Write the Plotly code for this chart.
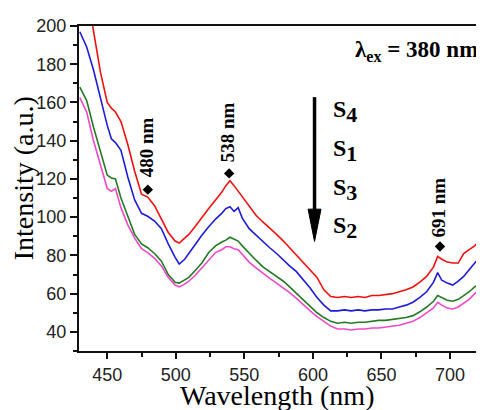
import plotly.graph_objects as go

# ---------------- data ----------------
wavelength = [430, 435, 440, 445, 450, 453, 456, 460, 465, 470, 475, 479.5, 484.5, 489.5, 494.5, 499.5,
              502.5, 506.5, 509.5, 514, 519, 524, 529, 533.5, 536.5, 539.5, 542.5, 545.5, 548.5,
              553.5, 558.5, 563.5, 568.5, 573.5, 578.5, 583, 588, 593, 598, 603, 608, 613, 618, 623, 628,
              633, 638, 643, 648, 653, 658, 663, 668, 673, 678,
              683, 688, 691, 694, 698, 702, 706, 710, 714, 718, 722, 726]

s4 = [240, 218, 196, 176, 160, 157, 155, 150, 138, 124, 112, 110.5, 106, 99, 92, 87.5,
      86.5, 89, 91, 95, 100, 104.5, 109, 113, 116.5, 119, 116.5, 113.5, 111,
      106, 101, 97.5, 94.5, 91, 87.5, 84, 80.5, 76.5, 72.5, 68.5, 62, 58.5, 58, 58.5, 58,
      58.5, 58, 59, 59, 59.5, 60, 61, 62, 63.5, 66,
      69, 74, 79.5, 78, 76.5, 76, 76, 81, 83, 85, 88, 91]

s1 = [197, 189, 177, 162, 148, 141, 139, 135, 121, 109, 102, 100.5, 98, 94, 86, 79,
      75.5, 78, 81, 86, 90.5, 95, 99, 102, 104.5, 105.5, 103, 105, 99.5,
      94, 90.5, 87.5, 84, 81, 77.5, 74.5, 71.5, 67.5, 63, 58, 54, 51, 51, 51.5, 51,
      51.5, 51, 51.5, 51.5, 52, 52, 53, 54, 55.5, 58,
      61, 66, 71, 67, 65.5, 64.5, 66.5, 69, 72.5, 76, 79.5, 82]

s3 = [168, 161, 147, 134, 122, 120.5, 120, 110, 100, 91, 86, 84, 81, 77, 70, 66,
      65.5, 67, 68.5, 72, 76, 81.5, 85, 87, 88, 89.5, 88.5, 87.5, 85,
      81, 77.5, 74, 71.5, 69, 66.5, 63.5, 60, 56.5, 53, 50, 47.5, 45.5, 44.5, 45, 44.5,
      45, 45, 45.5, 46, 46, 46.5, 47, 47.5, 48.5, 50.5,
      53, 56, 59, 58, 56.5, 56, 57, 59, 61, 63.5, 66, 68]

s2 = [162.5, 155, 140, 127, 115, 113.5, 115, 105, 96, 89, 83.5, 81.5, 78.5, 74.5, 68.5, 64.5,
      63.5, 65, 66.5, 69.5, 73.5, 78, 81.5, 83, 84.5, 84.5, 83.5, 83, 80.5,
      76.5, 73.5, 70.5, 68, 65.5, 63, 60.5, 57.5, 54.5, 51, 48, 45.5, 43, 41.5, 41.5, 41,
      41.5, 41.5, 42, 42, 42.5, 43, 43.5, 44.5, 45.5, 47.5,
      50, 52.5, 55.5, 54, 52.5, 52, 53, 55, 57, 60, 62.5, 64.5]

peak_labels = ["480 nm", "538 nm", "691 nm"]
peak_x = [479.6, 538.9, 692.7]
peak_y = [114.4, 122.9, 84.7]

series_names = ["S<sub>4</sub>", "S<sub>1</sub>", "S<sub>3</sub>", "S<sub>2</sub>"]
series_subs = ["4", "1", "3", "2"]
series_colors = ["#f01010", "#1c1cd8", "#237a23", "#f048c8"]

x_ticks = [450, 500, 550, 600, 650, 700]
y_ticks = [40, 60, 80, 100, 120, 140, 160, 180, 200]

# ---------------- figure ----------------
SERIF = "Times New Roman, Liberation Serif, serif"
SANS = "Arial, Liberation Sans, sans-serif"

fig = go.Figure()
for name, ys, col in zip(series_names, [s4, s1, s3, s2], series_colors):
    fig.add_trace(go.Scatter(x=wavelength, y=ys, mode="lines", name=name,
                             line=dict(color=col, width=1.6), showlegend=False))

fig.add_trace(go.Scatter(x=peak_x, y=peak_y, mode="markers", showlegend=False,
                         marker=dict(symbol="diamond", size=8, color="black")))

# rotated peak labels above markers
label_gap = [5.5, 5.0, 3.8]
for lx, ly, lt, g in zip(peak_x, peak_y, peak_labels, label_gap):
    fig.add_annotation(x=lx - 1.2, y=ly + g, text=lt, showarrow=False, textangle=-90,
                       xanchor="center", yanchor="bottom",
                       font=dict(family=SERIF, size=19, color="black", weight="bold"))

# excitation label
fig.add_annotation(x=722, y=187, text="λ<sub>ex</sub> = 380 nm", showarrow=False,
                   xanchor="right", yanchor="middle",
                   font=dict(family=SERIF, size=23, color="black", weight="bold"))

# arrow
arrow_x = 601.2
fig.add_shape(type="line", x0=arrow_x, x1=arrow_x, y0=162.8, y1=102,
              line=dict(color="black", width=3.5))
fig.add_shape(type="path",
              path=f"M {arrow_x-4.7},104.2 L {arrow_x+4.7},104.2 L {arrow_x},87.3 Z",
              fillcolor="black", line=dict(color="black", width=1))

# sample order labels (large subscripts as in the reference)
label_ys = [155.2, 134.8, 114.4, 94.5]
for sub, ly in zip(series_subs, label_ys):
    fig.add_annotation(x=613.1, y=ly, text=f"S<sub><span style='font-size:22px'>{sub}</span></sub>",
                       showarrow=False, xanchor="left", yanchor="middle",
                       font=dict(family=SERIF, size=24, color="black", weight="bold"))

# axis titles as annotations
fig.add_annotation(xref="paper", yref="paper", x=-0.137, y=0.53, text="Intensity (a.u.)",
                   showarrow=False, textangle=-90, xanchor="center", yanchor="middle",
                   font=dict(family=SERIF, size=28, color="black"))
fig.add_annotation(xref="paper", yref="paper", x=0.49, y=-0.137, text="Wavelength (nm)",
                   showarrow=False, xanchor="center", yanchor="middle",
                   font=dict(family=SERIF, size=28, color="black"))

axis_common = dict(showgrid=False, zeroline=False, showline=True, linecolor="#111",
                   linewidth=2, ticks="outside", tickcolor="#111", tickwidth=1.5,
                   ticklabeloverflow="allow",
                   tickfont=dict(family=SANS, size=18, color="#222"))

fig.update_xaxes(range=[429.4, 724.8], tickvals=x_ticks, ticklen=6, mirror=True,
                 minor=dict(dtick=25, tick0=425, ticks="outside", ticklen=3.5,
                            tickcolor="#111", tickwidth=1.5),
                 **axis_common)
fig.update_yaxes(range=[30, 200], tickvals=y_ticks, ticklen=7, mirror=False,
                 minor=dict(dtick=10, tick0=30, ticks="outside", ticklen=4,
                            tickcolor="#111", tickwidth=1.5),
                 **axis_common)

# page body has an 8px margin: offset the plot area so it lands where the reference has it
fig.update_layout(width=484, height=410, autosize=False,
                  margin=dict(l=71, r=8, t=9, b=67),
                  plot_bgcolor="white", paper_bgcolor="white")

fig.write_html("out.html")
